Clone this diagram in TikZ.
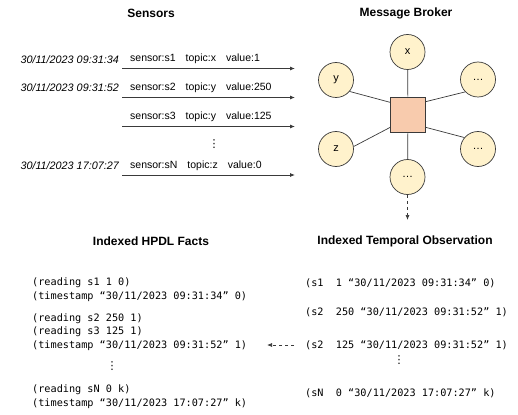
\documentclass[tikz,border=0pt]{standalone}
\usepackage{fontspec}
\setmainfont{Liberation Sans}
\newfontfamily\monof{DejaVu Sans Mono}
\newfontfamily\symf{DejaVu Sans}
\usetikzlibrary{arrows.meta,calc}
\definecolor{topicfill}{HTML}{FFF2CC}
\definecolor{brokerfill}{HTML}{F8CBAD}
\definecolor{edgegray}{HTML}{3A3A3A}
\begin{document}
\begin{tikzpicture}[x=1pt,y=-1pt,
  title/.style={font=\fontsize{12}{14}\selectfont\bfseries, inner sep=0pt},
  tstamp/.style={font=\fontsize{10.8}{12}\selectfont\itshape, anchor=east, inner sep=0pt},
  msg/.style={font=\fontsize{10.5}{12}\selectfont, anchor=west, inner sep=0pt},
  topic/.style={circle, draw=edgegray, line width=0.7pt, fill=topicfill, minimum size=35pt, inner sep=0pt, font=\fontsize{11}{12}\selectfont},
  broker/.style={rectangle, draw=edgegray, line width=0.8pt, fill=brokerfill, minimum size=35pt, inner sep=0pt},
  mono/.style={font=\monof\fontsize{10.2}{12}\selectfont, anchor=west, inner sep=0pt},
  vdot/.style={inner sep=0pt, font=\symf\fontsize{11}{12}\selectfont},
  arr/.style={-{Latex[length=5pt,width=4pt]}, line width=0.8pt, draw=edgegray},
  link/.style={line width=0.7pt, draw=edgegray},
  darr/.style={-{Latex[length=5pt,width=4pt]}, line width=0.7pt, draw=edgegray, dash pattern=on 3pt off 3pt}
]
\useasboundingbox (0,0) rectangle (518,414);

% titles
\node[title] (tsens) at (151,13) {Sensors};
\node[title] (tbrok) at (406,13) {Message Broker};
\node[title] (thpdl) at (151,241) {Indexed HPDL Facts};
\node[title] (tobs) at (405,241) {Indexed Temporal Observation};

% sensor messages
\node[tstamp] (ts1) at (119,60) {30/11/2023 09:31:34};
\node[tstamp] (ts2) at (119,88) {30/11/2023 09:31:52};
\node[tstamp] (tsN) at (119,166) {30/11/2023 17:07:27};

\node[msg] (m1) at (130,59) {sensor:s1\hspace{10pt}topic:x\hspace{10pt}value:1};
\node[msg] (m2) at (130,87.5) {sensor:s2\hspace{10pt}topic:y\hspace{10pt}value:250};
\node[msg] (m3) at (130,116.5) {sensor:s3\hspace{10pt}topic:y\hspace{10pt}value:125};
\node[msg] (mN) at (130,165.5) {sensor:sN\hspace{10pt}topic:z\hspace{10pt}value:0};
\node[vdot] (sdots) at (214,144) {⋮};

\coordinate (a1s) at (122,68.5);  \coordinate (a1e) at (295,68.5);
\coordinate (a2s) at (122,97.5);  \coordinate (a2e) at (295,97.5);
\coordinate (a3s) at (122,126.5); \coordinate (a3e) at (295,126.5);
\coordinate (aNs) at (122,175);   \coordinate (aNe) at (295,175);
\draw[arr] (a1s) -- (a1e);
\draw[arr] (a2s) -- (a2e);
\draw[arr] (a3s) -- (a3e);
\draw[arr] (aNs) -- (aNe);

% broker
\node[broker] (sq) at (408,114.5) {};
\node[topic] (cx) at (407.5,52) {x};
\node[topic] (cy) at (336,80) {y};
\node[topic] (cz) at (336,149) {z};
\node[topic] (ctr) at (478,79.5) {\ldots};
\node[topic] (cbr) at (478,149) {\ldots};
\node[topic] (cb) at (407.5,177) {\ldots};

\draw[link] (cx) -- (sq);
\draw[link] (sq) -- (cb);
\draw[link] (cy.-40) -- ($(sq.north west)!0.16!(sq.south west)$);
\draw[link] (ctr.-136) -- ($(sq.north east)!0.14!(sq.south east)$);
\draw[link] (cz.8) -- ($(sq.south west)!0.14!(sq.north west)$);
\draw[link] (cbr.140) -- ($(sq.south east)!0.14!(sq.north east)$);

\coordinate (dend) at (407.5,220);
\draw[darr] (cb.south) -- (dend);

% HPDL facts
\node[mono] (f1) at (32,283) {(reading s1 1 0)};
\node[mono] (f2) at (32,296.5) {(timestamp “30/11/2023 09:31:34” 0)};
\node[mono] (f3) at (32,318.5) {(reading s2 250 1)};
\node[mono] (f4) at (32,332) {(reading s3 125 1)};
\node[mono] (f5) at (32,345.5) {(timestamp “30/11/2023 09:31:52” 1)};
\node[vdot] (fdots) at (112,366) {⋮};
\node[mono] (f6) at (32,390) {(reading sN 0 k)};
\node[mono] (f7) at (32,403.5) {(timestamp “30/11/2023 17:07:27” k)};

% temporal observations
\node[mono] (o1) at (305,283) {(s1~~1 “30/11/2023 09:31:34” 0)};
\node[mono] (o2) at (305,312) {(s2~~250 “30/11/2023 09:31:52” 1)};
\node[mono] (o3) at (305,345) {(s2~~125 “30/11/2023 09:31:52” 1)};
\node[vdot] (odots) at (399,360) {⋮};
\node[mono] (o4) at (305,393) {(sN~~0 “30/11/2023 17:07:27” k)};

\coordinate (ls) at (294,345);
\coordinate (le) at (267,345);
\draw[darr] (ls) -- (le);
\end{tikzpicture}
\end{document}
